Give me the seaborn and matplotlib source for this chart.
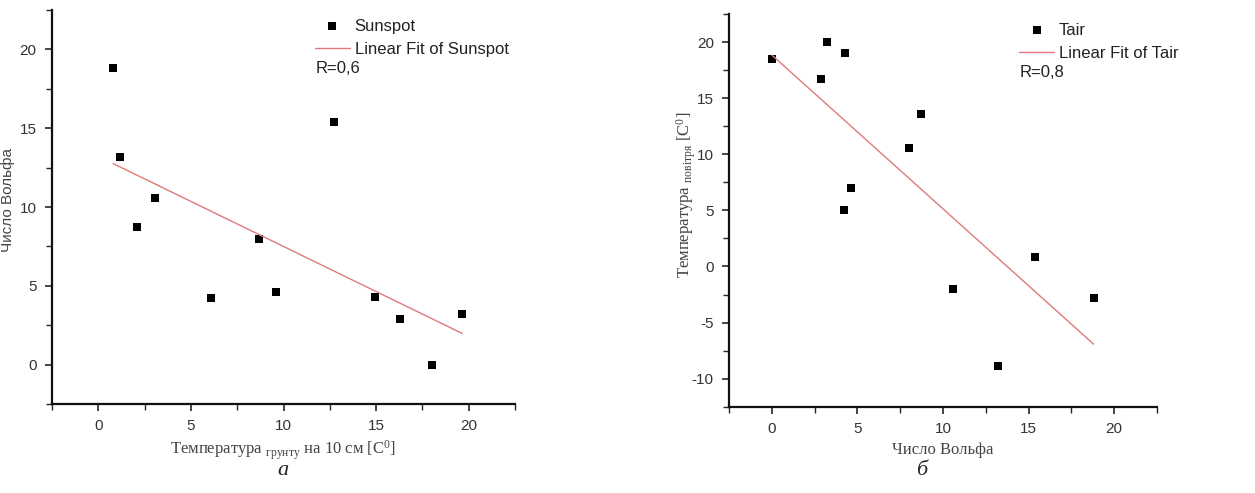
import numpy as np
import pandas as pd
import matplotlib
matplotlib.use('Agg')
import matplotlib.pyplot as plt
import seaborn as sns
from matplotlib.ticker import MultipleLocator

# панель а: температура грунту на 10 см vs число Вольфа
t_soil = [0.8, 1.15, 2.1, 3.05, 6.1, 8.7, 9.6, 12.7, 14.95, 16.3, 18.0, 19.65]
wolf_a = [18.8, 13.2, 8.7, 10.6, 4.2, 8.0, 4.6, 15.4, 4.3, 2.9, 0.0, 3.2]

# панель б: число Вольфа vs температура повітря
wolf_b = [0.0, 2.9, 3.2, 4.3, 4.2, 4.6, 8.0, 8.7, 10.6, 13.2, 15.4, 18.8]
t_air = [18.45, 16.7, 20.0, 19.0, 5.0, 7.0, 10.56, 13.57, -2.0, -8.9, 0.8, -2.77]

df_a = pd.DataFrame({'x': t_soil, 'y': wolf_a})
df_b = pd.DataFrame({'x': wolf_b, 'y': t_air})

sns.set_style('ticks')
plt.rcParams['font.family'] = ['Liberation Sans', 'DejaVu Sans']
plt.rcParams['axes.unicode_minus'] = False
plt.rcParams['mathtext.fontset'] = 'custom'
plt.rcParams['mathtext.rm'] = 'Liberation Serif'
plt.rcParams['mathtext.it'] = 'Liberation Serif:italic'

fig = plt.figure(figsize=(12.55, 4.93), dpi=100)
ax1 = fig.add_axes([0.0414, 0.1805, 0.369, 0.7992])
ax2 = fig.add_axes([0.5809, 0.175, 0.341, 0.7966])

fit_color = '#e07a7a'
serif = ['Liberation Serif', 'DejaVu Serif']


def style_axes(ax, xlim, ylim):
    ax.set_xlim(*xlim)
    ax.set_ylim(*ylim)
    ax.xaxis.set_major_locator(MultipleLocator(5))
    ax.yaxis.set_major_locator(MultipleLocator(5))
    ax.xaxis.set_minor_locator(MultipleLocator(2.5))
    ax.yaxis.set_minor_locator(MultipleLocator(2.5))
    for s in ['top', 'right']:
        ax.spines[s].set_visible(False)
    for s in ['left', 'bottom']:
        ax.spines[s].set_linewidth(1.6)
        ax.spines[s].set_color('#111111')
    ax.tick_params(which='major', direction='out', length=5, width=1.2,
                   labelsize=11, labelcolor='#333333', pad=6)
    ax.tick_params(which='minor', direction='out', length=4, width=1.0)


def panel(ax, df, name, r_text, lx, rx):
    sns.scatterplot(data=df, x='x', y='y', ax=ax, marker='s', s=38,
                    color='black', edgecolor='black', linewidth=0, label=name)
    sns.regplot(data=df, x='x', y='y', ax=ax, scatter=False, ci=None,
                color=fit_color, line_kws={'linewidth': 1.0},
                label='Linear Fit of ' + name)
    leg = ax.legend(loc='upper left', bbox_to_anchor=(lx, 0.995), frameon=False,
                    fontsize=12, handlelength=2.1, handletextpad=0.3,
                    labelspacing=0.5, borderaxespad=0.2, borderpad=0.2)
    for t in leg.get_texts():
        t.set_color('#222222')
    ax.text(rx, 0.852, r_text, transform=ax.transAxes, fontsize=12,
            color='#222222', va='center')


panel(ax1, df_a, 'Sunspot', 'R=0,6', 0.553, 0.57)
panel(ax2, df_b, 'Tair', 'R=0,8', 0.662, 0.68)

style_axes(ax1, (-2.5, 22.5), (-2.5, 22.5))
style_axes(ax2, (-2.5, 22.5), (-12.5, 22.5))

ax1.set_xlabel(r'Температура $_{\mathrm{грунту}}$ на 10 см [C$^0$]',
               family=serif, fontsize=12, color='#444444', labelpad=4)
ax1.set_ylabel('Число Вольфа', fontsize=11, color='#444444')
ax1.yaxis.set_label_coords(-0.08, 0.518)
ax2.set_xlabel('Число Вольфа', family=serif, fontsize=12, color='#444444', labelpad=4)
ax2.set_ylabel(r'Температура $_{\mathrm{повітря}}$ [C$^0$]',
               family=serif, fontsize=12, color='#444444')
ax2.yaxis.set_label_coords(-0.072, 0.539)

fig.text(0.2255, 0.045, 'а', family=serif, style='italic', fontsize=16,
         ha='center', va='center')
fig.text(0.734, 0.045, 'б', family=serif, style='italic', fontsize=16,
         ha='center', va='center')

fig.savefig('out.png', dpi=100)
